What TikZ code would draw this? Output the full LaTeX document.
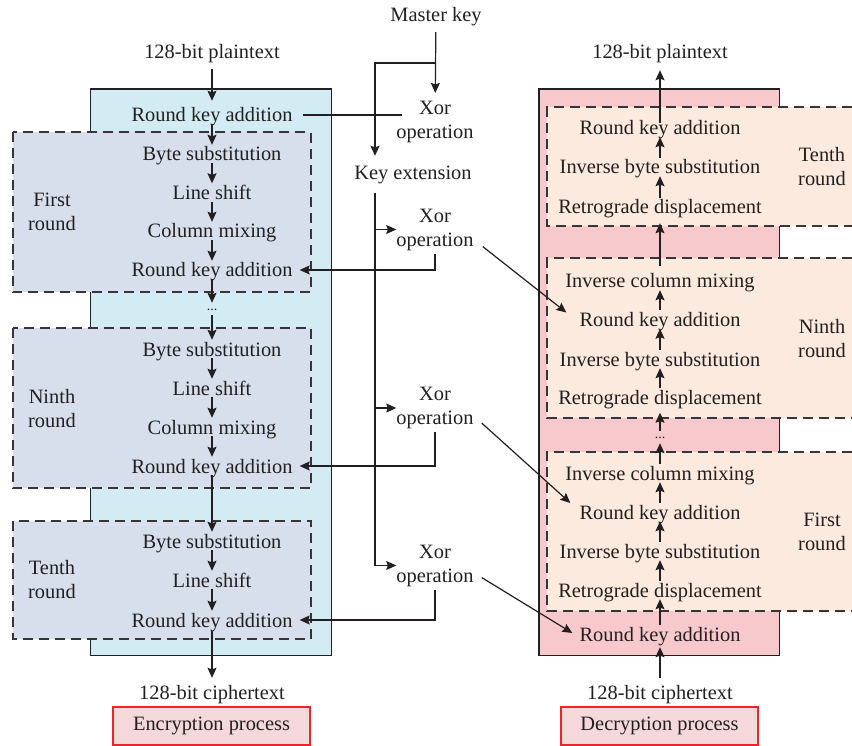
\documentclass[tikz,border=0pt]{standalone}
\usepackage{fontspec}
\setmainfont{Liberation Serif}
\usetikzlibrary{arrows.meta}
\definecolor{ink}{HTML}{231F20}
\definecolor{encfill}{HTML}{D3ECF3}
\definecolor{encround}{HTML}{D6DFEB}
\definecolor{decfill}{HTML}{F7C9CD}
\definecolor{decround}{HTML}{FBEADD}
\definecolor{tagfill}{HTML}{F4D8DA}
\definecolor{tagline}{HTML}{E8262C}

\begin{document}
\begin{tikzpicture}[x=1pt,y=-1pt,
  txt/.style={font=\fontsize{20.4}{24}\selectfont, text=ink, inner sep=0pt, text height=16pt, text depth=2pt},
  two/.style={font=\fontsize{20.4}{24}\selectfont, text=ink, inner sep=0pt, align=center},
  dotsnode/.style={font=\fontsize{14}{16}\selectfont, text=ink, inner sep=0pt, text height=3pt, text depth=0pt, minimum height=12pt},
  arr/.style={draw=ink, line width=1.2pt, -{Stealth[length=10pt,width=9pt,inset=1.5pt]}},
  link/.style={draw=ink, line width=1.2pt},
  outerbox/.style={draw=ink, line width=1.2pt},
  roundbox/.style={draw=ink!90, line width=1.7pt, dash pattern=on 10pt off 6pt},
  tag/.style={draw=tagline, fill=tagfill, line width=1.3pt, minimum width=197pt, minimum height=38pt,
              font=\fontsize{20.4}{24}\selectfont, text=ink, inner sep=0pt}
]
\useasboundingbox (0,0) rectangle (852,746);

% ---------- encryption column: background panels ----------
\fill[encfill] (90.7,89) rectangle (331.7,655.7);
\draw[outerbox] (90.7,89) rectangle (331.7,655.7);
\foreach \ya/\yb in {132/292.3, 327.7/488.3, 521/639}{
  \fill[encround] (12.7,\ya) rectangle (310.7,\yb);
  \draw[roundbox] (12.7,\ya) rectangle (310.7,\yb);
}

% ---------- decryption column: background panels ----------
\fill[decfill] (539,89) rectangle (779.3,655.7);
\draw[outerbox] (539,89) rectangle (779.3,655.7);
\foreach \ya/\yb in {107.3/225.7, 258.3/418.3, 451.7/611}{
  \fill[decround] (547.3,\ya) rectangle (852,\yb);
  \draw[roundbox] (852,\ya) -- (547.3,\ya) -- (547.3,\yb) -- (852,\yb);
}

% ---------- encryption steps ----------
\node[txt] (ptL)   at (212,52)  {128-bit plaintext};
\node[txt] (rkaT)  at (212,115) {Round key addition};
\node[txt] (bs1)   at (212,154) {Byte substitution};
\node[txt] (ls1)   at (212,192.5) {Line shift};
\node[txt] (cm1)   at (212,231) {Column mixing};
\node[txt] (rka1)  at (212,270) {Round key addition};
\node[dotsnode] (dotsL) at (212,309) {...};
\node[txt] (bs9)   at (212,349) {Byte substitution};
\node[txt] (ls9)   at (212,388) {Line shift};
\node[txt] (cm9)   at (212,427) {Column mixing};
\node[txt] (rka9)  at (212,466) {Round key addition};
\node[txt] (bs10)  at (212,541) {Byte substitution};
\node[txt] (ls10)  at (212,580) {Line shift};
\node[txt] (rka10) at (212,620) {Round key addition};
\node[txt] (ctL)   at (212,692) {128-bit ciphertext};
\node[tag] (enc)   at (211.5,726) {Encryption process};

\node[two] (lr1)  at (52,212)   {First\\round};
\node[two] (lr9)  at (52,408.5) {Ninth\\round};
\node[two] (lr10) at (52,579.5) {Tenth\\round};

% ---------- decryption steps ----------
\node[txt] (ptR)    at (660,52)  {128-bit plaintext};
\node[txt] (d10rka) at (660,128) {Round key addition};
\node[txt] (d10ibs) at (660,167) {Inverse byte substitution};
\node[txt] (d10ret) at (660,207) {Retrograde displacement};
\node[txt] (d9icm)  at (660,281) {Inverse column mixing};
\node[txt] (d9rka)  at (660,319.5) {Round key addition};
\node[txt] (d9ibs)  at (660,359) {Inverse byte substitution};
\node[txt] (d9ret)  at (660,397.5) {Retrograde displacement};
\node[dotsnode] (dotsR) at (660,437) {...};
\node[txt] (d1icm)  at (660,473) {Inverse column mixing};
\node[txt] (d1rka)  at (660,512) {Round key addition};
\node[txt] (d1ibs)  at (660,551) {Inverse byte substitution};
\node[txt] (d1ret)  at (660,590) {Retrograde displacement};
\node[txt] (d0rka)  at (660,634) {Round key addition};
\node[txt] (ctR)    at (660,692) {128-bit ciphertext};
\node[tag] (dec)    at (659.5,726) {Decryption process};

\node[two] (rr10) at (822,166.5) {Tenth\\round};
\node[two] (rr9)  at (822,338.5) {Ninth\\round};
\node[two] (rr1)  at (822,531.5) {First\\round};

% ---------- key schedule ----------
\node[txt] (mk)   at (436,15)  {Master key};
\node[two] (xor1) at (435,122) {Xor\\operation};
\node[txt] (ke)   at (413,173) {Key extension};
\node[two] (xor2) at (435,229.5) {Xor\\operation};
\node[two] (xor3) at (435,408) {Xor\\operation};
\node[two] (xor4) at (435,565.5) {Xor\\operation};
\coordinate (bus) at (375,0);
\coordinate (kb)  at (435,63);

% ---------- encryption flow ----------
\draw[arr, shorten <=8pt, shorten >=5pt] (ptL) -- (rkaT);
\draw[arr] (rkaT) -- (bs1);
\draw[arr] (bs1) -- (ls1);
\draw[arr] (ls1) -- (cm1);
\draw[arr] (cm1) -- (rka1);
\draw[arr] (rka1) -- (dotsL);
\draw[arr] (dotsL) -- (bs9);
\draw[arr] (bs9) -- (ls9);
\draw[arr] (ls9) -- (cm9);
\draw[arr] (cm9) -- (rka9);
\draw[arr] (rka9) -- (bs10);
\draw[arr] (bs10) -- (ls10);
\draw[arr] (ls10) -- (rka10);
\draw[arr, shorten <=2pt, shorten >=5pt] (rka10) -- (ctL);

% ---------- decryption flow ----------
\draw[arr, shorten <=5pt, shorten >=4pt] (ctR) -- (d0rka);
\draw[arr] (d0rka) -- (d1ret);
\draw[arr] (d1ret) -- (d1ibs);
\draw[arr] (d1ibs) -- (d1rka);
\draw[arr] (d1rka) -- (d1icm);
\draw[arr] (d1icm) -- (dotsR);
\draw[arr, shorten >=6pt] (dotsR) -- (d9ret);
\draw[arr] (d9ret) -- (d9ibs);
\draw[arr] (d9ibs) -- (d9rka);
\draw[arr] (d9rka) -- (d9icm);
\draw[arr, shorten <=6pt, shorten >=7pt] (d9icm) -- (d10ret);
\draw[arr] (d10ret) -- (d10ibs);
\draw[arr] (d10ibs) -- (d10rka);
\draw[arr, shorten <=-4pt, shorten >=9pt] (d10rka) -- (ptR);

% ---------- key flow ----------
\draw[arr, shorten <=8pt, shorten >=8pt] (mk) -- (xor1);
\draw[arr, shorten >=8pt] (kb) -| (ke.north -| bus);
\draw[link, shorten <=10pt, shorten >=-6pt] (rkaT.east) -- (rkaT.east -| xor1.west);
\draw[arr, shorten <=11pt] (ke.south -| bus) |- (xor4.west);
\draw[arr] (bus |- xor2.west) -- (xor2.west);
\draw[arr] (bus |- xor3.west) -- (xor3.west);

\draw[arr, shorten <=3pt, shorten >=7pt] (xor2.south) |- (rka1.east);
\draw[arr, shorten <=3pt, shorten >=7pt] (xor3.south) |- (rka9.east);
\draw[arr, shorten <=3pt, shorten >=7pt] (xor4.south) |- (rka10.east);

\draw[arr] ([shift={(9,-4)}]xor2.south east) -- ([shift={(-13,-7)}]d9rka.west);
\draw[arr] ([shift={(8,-6)}]xor3.south east) -- ([shift={(-9,-9)}]d1rka.west);
\draw[arr] ([shift={(8,-9)}]xor4.south east) -- ([shift={(-7,-1)}]d0rka.west);
\end{tikzpicture}
\end{document}
